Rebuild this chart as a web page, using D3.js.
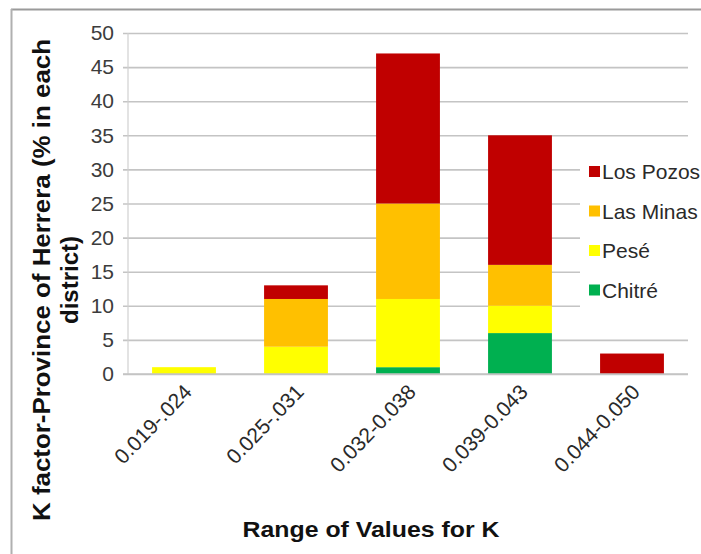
<!DOCTYPE html>
<html>
<head>
<meta charset="utf-8">
<script src="https://cdn.jsdelivr.net/npm/d3@7/dist/d3.min.js"></script>
<style>
  html, body { margin: 0; padding: 0; background: #fff; }
  svg { display: block; }
  text { font-family: "Liberation Sans", Arial, sans-serif; }
</style>
</head>
<body>
<svg id="chart" width="701" height="554"></svg>
<script>
// ---- data ----
const categories = ["0.019-.024", "0.025-.031", "0.032-0.038", "0.039-0.043", "0.044-0.050"];
const seriesNames = ["Chitré", "Pesé", "Las Minas", "Los Pozos"];
const chitre   = [0, 0, 1, 6, 0];
const pese     = [1, 4, 10, 4, 0];
const lasMinas = [0, 7, 14, 6, 0];
const losPozos = [0, 2, 22, 19, 3];
const seriesColors = ["#00B050", "#FFFF00", "#FFC000", "#C00000"];
const yTicks = [0, 5, 10, 15, 20, 25, 30, 35, 40, 45, 50];
const legendOrder = ["Los Pozos", "Las Minas", "Pesé", "Chitré"];
const xTitle = "Range of Values for K";
const yTitle1 = "K factor-Province of Herrera (% in each";
const yTitle2 = "district)";

(function () {
const seriesValues = [chitre, pese, lasMinas, losPozos];
const rows = categories.map((c, i) => {
  const r = { cat: c };
  seriesNames.forEach((s, j) => r[s] = seriesValues[j][i]);
  return r;
});

const svg = d3.select("#chart");
const pLeft = 128, pRight = 688, pTop = 33, pBottom = 374;

// outer border (top + left)
svg.append("line").attr("x1", 11).attr("x2", 701).attr("y1", 9.5).attr("y2", 9.5)
  .attr("stroke", "#9a9a9a").attr("stroke-width", 2);
svg.append("line").attr("x1", 11.5).attr("x2", 11.5).attr("y1", 9).attr("y2", 554)
  .attr("stroke", "#b0b0b0").attr("stroke-width", 2);

const x = d3.scaleBand().domain(categories).range([pLeft, pRight]).paddingInner(0.43).paddingOuter(0.215);
const y = d3.scaleLinear().domain([0, 50]).range([pBottom, pTop]);

// gridlines + y axis
const yAxis = d3.axisLeft(y).tickValues(yTicks).tickSize(-(pRight - pLeft)).tickPadding(14);
const gy = svg.append("g").attr("transform", `translate(${pLeft},0)`).call(yAxis);
gy.select(".domain").remove();
gy.selectAll(".tick line").attr("stroke", "#c4c4c4").attr("stroke-width", 1.6).attr("x1", -5);
gy.selectAll(".tick text").attr("font-size", 21).attr("fill", "#3c3c3c")
  .attr("font-family", "'Liberation Sans', Arial, sans-serif");

// vertical axis line
svg.append("line").attr("x1", pLeft).attr("x2", pLeft).attr("y1", pTop).attr("y2", pBottom)
  .attr("stroke", "#d0d0d0").attr("stroke-width", 1.2);

// stacked bars
const stack = d3.stack().keys(seriesNames)(rows);
svg.append("g").selectAll("g").data(stack).join("g")
  .attr("fill", (d, i) => seriesColors[i])
  .selectAll("rect").data(d => d).join("rect")
  .attr("x", d => x(d.data.cat))
  .attr("width", x.bandwidth())
  .attr("y", d => y(d[1]))
  .attr("height", d => y(d[0]) - y(d[1]));

// x axis line
svg.append("line").attr("x1", pLeft - 5).attr("x2", pRight).attr("y1", pBottom).attr("y2", pBottom)
  .attr("stroke", "#c4c4c4").attr("stroke-width", 1.6);

// x tick labels
const xAxis = d3.axisBottom(x).tickSize(0).tickPadding(0);
const gx = svg.append("g").attr("transform", `translate(0,${pBottom})`).call(xAxis);
gx.select(".domain").remove();
gx.selectAll(".tick text")
  .attr("font-size", 21).attr("fill", "#2a2a2a")
  .attr("font-family", "'Liberation Sans', Arial, sans-serif")
  .attr("text-anchor", "end")
  .attr("dy", 0).attr("y", 0)
  .attr("transform", "translate(9,19) rotate(-46)");

// legend background + items
const legend = svg.append("g");
legend.append("rect").attr("x", 580).attr("y", 152).attr("width", 121).attr("height", 160).attr("fill", "#fff");
const legItems = legend.selectAll("g.item").data(legendOrder).join("g")
  .attr("transform", (d, i) => `translate(589,${172 + i * 39.5})`);
legItems.append("rect").attr("x", 0).attr("y", -6).attr("width", 11).attr("height", 11)
  .attr("fill", d => seriesColors[seriesNames.indexOf(d)]);
legItems.append("text").attr("x", 13).attr("y", 7).attr("font-size", 21).attr("fill", "#2a2a2a")
  .text(d => d);

// axis titles
svg.append("text").attr("x", 371).attr("y", 537).attr("text-anchor", "middle")
  .attr("font-size", 22).attr("font-weight", "bold").attr("fill", "#111")
  .attr("textLength", 257).attr("lengthAdjust", "spacingAndGlyphs")
  .text(xTitle);
svg.append("text").attr("transform", "translate(50,280) rotate(-90)").attr("text-anchor", "middle")
  .attr("font-size", 24).attr("font-weight", "bold").attr("fill", "#111")
  .attr("textLength", 482).attr("lengthAdjust", "spacingAndGlyphs")
  .text(yTitle1);
svg.append("text").attr("transform", "translate(78,280) rotate(-90)").attr("text-anchor", "middle")
  .attr("font-size", 24).attr("font-weight", "bold").attr("fill", "#111")
  .text(yTitle2);
})();
</script>
</body>
</html>
